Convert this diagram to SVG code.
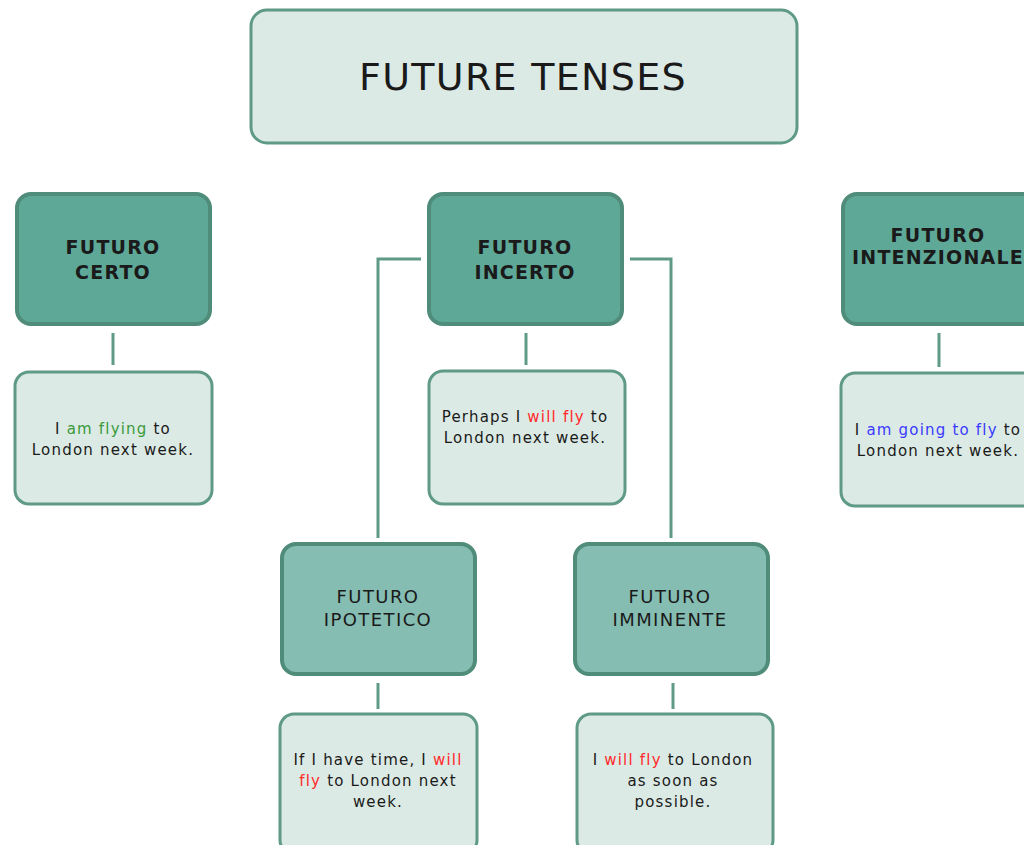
<svg xmlns="http://www.w3.org/2000/svg" width="1024" height="845" viewBox="0 0 1024 845">
<style>
.title{fill:#dceae5;stroke:#5e9a86;stroke-width:3}
.dark{fill:#5ea898;stroke:#4f8c79;stroke-width:4}
.mid{fill:#86bdb2;stroke:#4f8c79;stroke-width:4}
.light{fill:#dceae5;stroke:#5e9a86;stroke-width:3}
.conn{fill:none;stroke:#5e9a86;stroke-width:3}
text{font-family:"DejaVu Sans",Verdana,sans-serif;fill:#1a1a1a;text-anchor:middle}
.t{font-size:38px;letter-spacing:1.3px}
.h{font-size:19px;font-weight:bold;letter-spacing:1.2px}
.m{font-size:18px;letter-spacing:1.4px}
.s{font-size:15px;letter-spacing:1.2px}
.g{fill:#3a9a3a}
.r{fill:#ff2a2a}
.b{fill:#3a3aff}
</style>
<rect width="1024" height="845" fill="#ffffff"/>
<g id="connectors">
<path class="conn" d="M113 333V365"/>
<path class="conn" d="M526 333V365"/>
<path class="conn" d="M939 333V367"/>
<path class="conn" d="M421 259H378V538"/>
<path class="conn" d="M630 259H671V538"/>
<path class="conn" d="M378 683V709"/>
<path class="conn" d="M673 683V709"/>
</g>
<g id="future-tenses">
<rect class="title" x="251" y="10" width="546" height="133" rx="16"/>
<text class="t" x="523" y="90">FUTURE TENSES</text>
</g>
<g id="futuro-certo">
<rect class="dark" x="17" y="194" width="193" height="130" rx="14"/>
<text class="h" x="113" y="254">FUTURO</text>
<text class="h" x="113" y="279">CERTO</text>
</g>
<g id="certo-example">
<rect class="light" x="15" y="372" width="197" height="132" rx="14"/>
<text class="s" x="113" y="434">I <tspan class="g">am flying</tspan> to</text>
<text class="s" x="113" y="455">London next week.</text>
</g>
<g id="futuro-incerto">
<rect class="dark" x="429" y="194" width="193" height="130" rx="14"/>
<text class="h" x="525" y="254">FUTURO</text>
<text class="h" x="525" y="279">INCERTO</text>
</g>
<g id="incerto-example">
<rect class="light" x="429" y="371" width="196" height="133" rx="14"/>
<text class="s" x="525" y="422">Perhaps I <tspan class="r">will fly</tspan> to</text>
<text class="s" x="525" y="443">London next week.</text>
</g>
<g id="futuro-intenzionale">
<rect class="dark" x="843" y="194" width="200" height="130" rx="14"/>
<text class="h" x="938" y="242">FUTURO</text>
<text class="h" x="938" y="264">INTENZIONALE</text>
</g>
<g id="intenzionale-example">
<rect class="light" x="841" y="373" width="200" height="133" rx="14"/>
<text class="s" x="938" y="435">I <tspan class="b">am going to fly</tspan> to</text>
<text class="s" x="938" y="456">London next week.</text>
</g>
<g id="futuro-ipotetico">
<rect class="mid" x="282" y="544" width="193" height="130" rx="14"/>
<text class="m" x="378" y="603">FUTURO</text>
<text class="m" x="378" y="626">IPOTETICO</text>
</g>
<g id="ipotetico-example">
<rect class="light" x="280" y="714" width="197" height="140" rx="14"/>
<text class="s" x="378" y="765">If I have time, I <tspan class="r">will</tspan></text>
<text class="s" x="378" y="786"><tspan class="r">fly</tspan> to London next</text>
<text class="s" x="378" y="807">week.</text>
</g>
<g id="futuro-imminente">
<rect class="mid" x="575" y="544" width="193" height="130" rx="14"/>
<text class="m" x="670" y="603">FUTURO</text>
<text class="m" x="670" y="626">IMMINENTE</text>
</g>
<g id="imminente-example">
<rect class="light" x="577" y="714" width="196" height="140" rx="14"/>
<text class="s" x="673" y="765">I <tspan class="r">will fly</tspan> to London</text>
<text class="s" x="673" y="786">as soon as</text>
<text class="s" x="673" y="807">possible.</text>
</g>
</svg>
